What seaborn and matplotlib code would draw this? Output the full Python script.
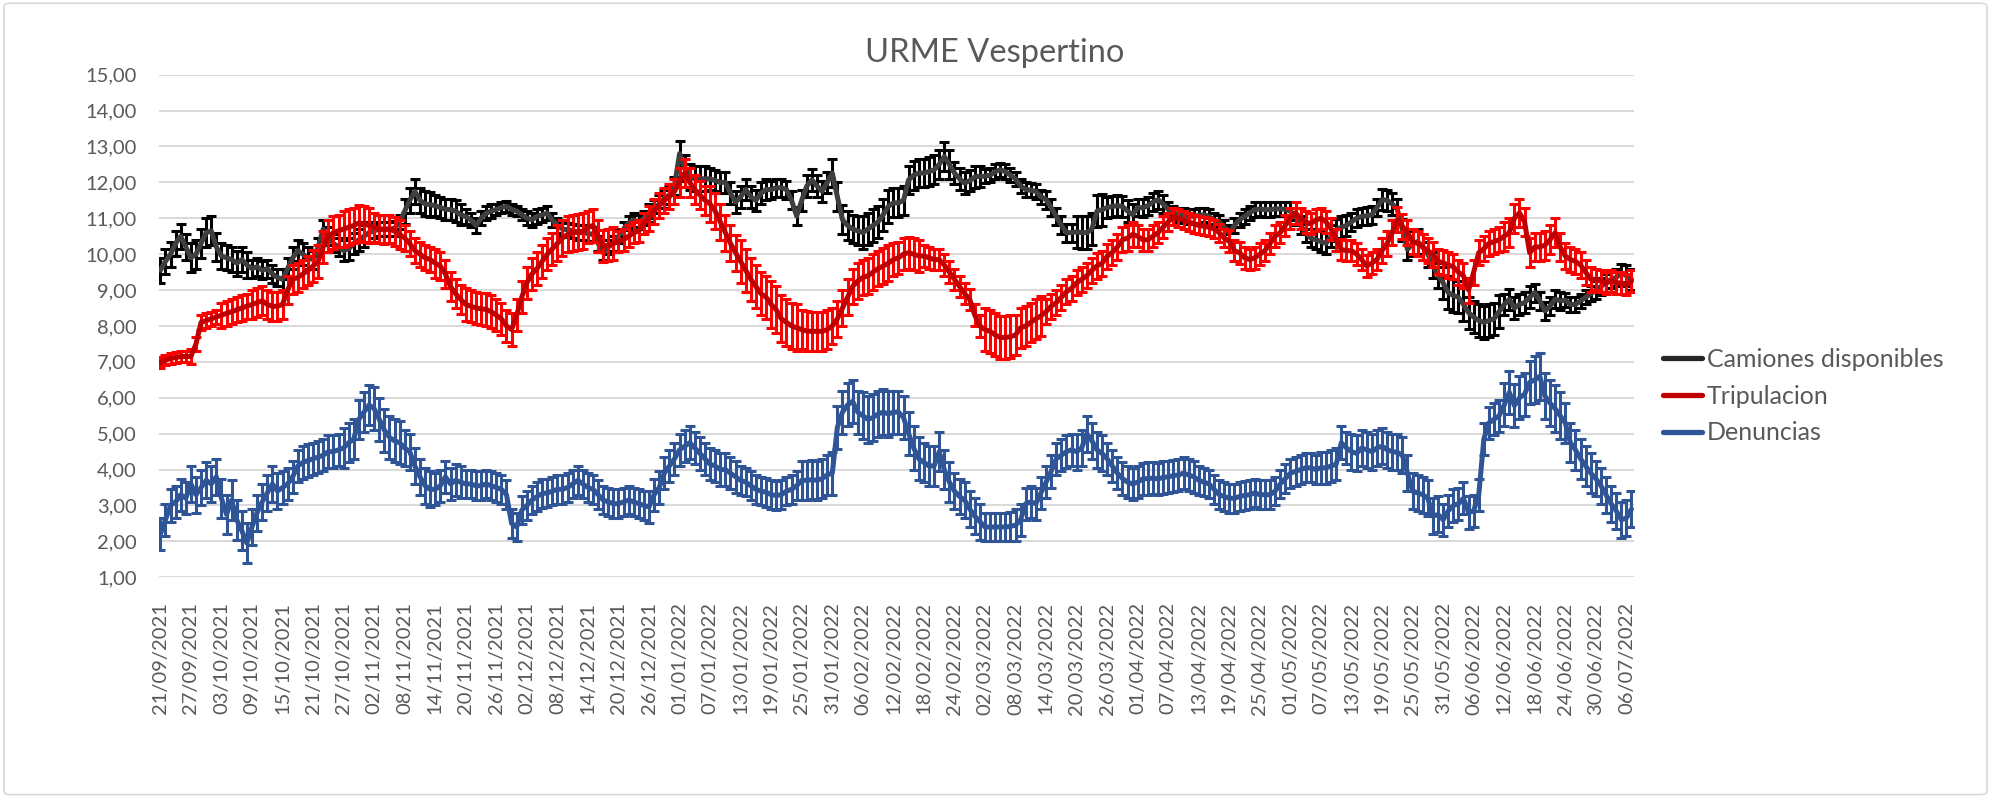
import numpy as np
import pandas as pd
import matplotlib
matplotlib.use("Agg")
import matplotlib.pyplot as plt
import seaborn as sns
from matplotlib.lines import Line2D
from matplotlib.patches import FancyBboxPatch

# -------------------------------
# Data (daily values, 21/09/2021 -> 07/07/2022)
# -------------------------------
start_date = "2021-09-21"

camiones = [
    9.55, 9.8, 10.0, 10.3, 10.5, 10.2, 9.9, 10.0, 10.3, 10.6,
    10.65, 10.2, 9.95, 9.9, 9.85, 9.75, 9.85, 9.7, 9.6, 9.65,
    9.55, 9.6, 9.45, 9.35, 9.3, 9.6, 9.9, 10.1, 10.0, 9.9,
    9.85, 10.2, 10.7, 10.5, 10.3, 10.2, 10.1, 10.15, 10.3, 10.4,
    10.5, 10.6, 10.65, 10.7, 10.7, 10.7, 10.72, 10.9, 11.2, 11.5,
    11.75, 11.5, 11.4, 11.38, 11.35, 11.3, 11.25, 11.24, 11.2, 11.1,
    11.05, 10.95, 10.8, 11.0, 11.14, 11.2, 11.25, 11.3, 11.33, 11.25,
    11.2, 11.1, 11.0, 10.96, 11.05, 11.1, 11.14, 10.95, 10.8, 10.7,
    10.68, 10.65, 10.6, 10.6, 10.58, 10.55, 10.3, 10.04, 10.2, 10.3,
    10.5, 10.7, 10.87, 10.95, 10.9, 11.0, 11.15, 11.25, 11.4, 11.55,
    11.65, 11.9, 12.8, 12.4, 12.15, 12.1, 12.1, 12.1, 12.1, 12.05,
    12.0, 12.0, 11.7, 11.45, 11.6, 11.8, 11.6, 11.5, 11.7, 11.8,
    11.8, 11.85, 11.85, 11.8, 11.5, 11.06, 11.5, 11.9, 12.07, 11.9,
    11.75, 12.0, 12.26, 11.6, 10.96, 10.8, 10.7, 10.65, 10.6, 10.7,
    10.8, 10.9, 11.1, 11.33, 11.43, 11.43, 11.5, 12.07, 12.2, 12.26,
    12.26, 12.3, 12.35, 12.5, 12.72, 12.5, 12.26, 12.1, 11.98, 12.05,
    12.15, 12.17, 12.17, 12.2, 12.3, 12.35, 12.3, 12.2, 12.1, 11.9,
    11.8, 11.78, 11.75, 11.6, 11.52, 11.3, 11.05, 10.8, 10.6, 10.6,
    10.62, 10.6, 10.6, 10.7, 11.2, 11.24, 11.3, 11.33, 11.35, 11.33,
    11.2, 11.1, 11.3, 11.29, 11.35, 11.45, 11.52, 11.4, 11.25, 11.15,
    11.1, 11.08, 11.05, 11.06, 11.08, 11.1, 11.05, 10.95, 10.9, 10.75,
    10.6, 10.8, 10.96, 11.05, 11.15, 11.24, 11.26, 11.24, 11.24, 11.26,
    11.26, 11.25, 11.2, 11.05, 10.8, 10.6, 10.45, 10.4, 10.35, 10.3,
    10.5, 10.68, 10.75, 10.8, 10.9, 11.0, 11.05, 11.07, 11.1, 11.3,
    11.52, 11.5, 11.4, 11.25, 10.68, 10.13, 10.3, 10.35, 10.2, 10.0,
    9.7, 9.4, 9.2, 8.93, 8.85, 8.8, 8.6, 8.37, 8.25, 8.15,
    8.1, 8.15, 8.2, 8.4, 8.6, 8.74, 8.5, 8.6, 8.65, 8.8,
    8.93, 8.7, 8.42, 8.55, 8.75, 8.7, 8.72, 8.6, 8.6, 8.7,
    8.8, 8.9, 9.0, 9.1, 9.2, 9.3, 9.35, 9.48, 9.4, 9.3,
]

tripulacion = [
    6.98, 7.05, 7.1, 7.12, 7.15, 7.15, 7.15, 7.5, 8.1, 8.15,
    8.2, 8.25, 8.3, 8.35, 8.4, 8.45, 8.5, 8.55, 8.6, 8.65,
    8.7, 8.6, 8.55, 8.55, 8.6, 9.0, 9.3, 9.35, 9.45, 9.55,
    9.67, 9.8, 10.2, 10.5, 10.6, 10.65, 10.7, 10.75, 10.8, 10.87,
    10.85, 10.8, 10.75, 10.7, 10.68, 10.7, 10.64, 10.55, 10.45, 10.3,
    10.1, 10.0, 9.9, 9.85, 9.75, 9.67, 9.45, 9.1, 8.9, 8.74,
    8.6, 8.55, 8.5, 8.48, 8.46, 8.4, 8.3, 8.2, 8.0, 7.9,
    8.3, 8.8, 9.2, 9.45, 9.6, 9.8, 10.0, 10.15, 10.3, 10.45,
    10.55, 10.6, 10.62, 10.64, 10.75, 10.8, 10.5, 10.22, 10.25, 10.3,
    10.35, 10.4, 10.5, 10.6, 10.65, 10.85, 11.0, 11.2, 11.35, 11.5,
    11.6, 11.75, 12.0, 12.26, 12.0, 11.8, 11.65, 11.5, 11.4, 11.2,
    10.9, 10.6, 10.3, 10.04, 9.8, 9.55, 9.3, 9.1, 8.9, 8.8,
    8.6, 8.45, 8.2, 8.1, 8.0, 7.95, 7.9, 7.86, 7.85, 7.85,
    7.85, 7.9, 8.0, 8.2, 8.5, 8.8, 9.1, 9.25, 9.35, 9.4,
    9.5, 9.6, 9.67, 9.75, 9.85, 9.9, 10.0, 10.04, 10.0, 9.95,
    9.95, 9.9, 9.85, 9.85, 9.7, 9.5, 9.3, 9.1, 8.9, 8.74,
    8.3, 8.0, 7.9, 7.85, 7.75, 7.68, 7.68, 7.7, 7.75, 7.95,
    8.0, 8.1, 8.2, 8.28, 8.4, 8.55, 8.65, 8.8, 8.95, 9.05,
    9.2, 9.3, 9.4, 9.55, 9.67, 9.75, 9.94, 10.05, 10.2, 10.4,
    10.45, 10.55, 10.5, 10.4, 10.4, 10.5, 10.6, 10.75, 10.9, 11.05,
    11.0, 10.95, 10.9, 10.85, 10.8, 10.78, 10.75, 10.7, 10.6, 10.45,
    10.36, 10.1, 10.04, 9.9, 9.85, 9.9, 10.0, 10.1, 10.3, 10.5,
    10.6, 10.8, 11.0, 11.15, 11.0, 10.9, 10.85, 10.95, 11.0, 10.9,
    10.7, 10.4, 10.13, 10.1, 10.1, 10.0, 9.85, 9.67, 9.75, 9.85,
    10.1, 10.3, 10.6, 10.96, 10.78, 10.6, 10.35, 10.3, 10.2, 10.1,
    10.0, 9.8, 9.76, 9.7, 9.65, 9.5, 9.4, 9.0, 9.5, 10.04,
    10.15, 10.3, 10.35, 10.4, 10.5, 10.6, 11.0, 11.15, 10.9, 10.04,
    10.2, 10.2, 10.25, 10.4, 10.6, 10.2, 9.95, 9.85, 9.8, 9.7,
    9.5, 9.3, 9.3, 9.25, 9.2, 9.25, 9.2, 9.2, 9.15, 9.25,
]

denuncias = [
    2.2, 2.6, 3.0, 3.1, 3.3, 3.2, 3.6, 3.3, 3.5, 3.7,
    3.6, 3.8, 3.2, 2.75, 3.15, 2.6, 2.3, 1.95, 2.4, 2.8,
    3.1, 3.35, 3.6, 3.4, 3.5, 3.6, 3.8, 4.1, 4.2, 4.25,
    4.3, 4.35, 4.4, 4.5, 4.5, 4.55, 4.6, 4.75, 4.85, 5.4,
    5.6, 5.8, 5.7, 5.4, 5.1, 4.9, 4.8, 4.75, 4.6, 4.5,
    4.1, 3.8, 3.55, 3.45, 3.45, 3.55, 3.8, 3.6, 3.7, 3.65,
    3.6, 3.6, 3.55, 3.55, 3.6, 3.55, 3.5, 3.45, 3.3, 2.5,
    2.4, 2.87, 3.0, 3.15, 3.25, 3.33, 3.35, 3.4, 3.45, 3.45,
    3.5, 3.6, 3.7, 3.6, 3.5, 3.45, 3.3, 3.15, 3.1, 3.05,
    3.05, 3.1, 3.15, 3.1, 3.05, 3.0, 2.96, 3.3, 3.5, 3.9,
    4.1, 4.3, 4.55, 4.65, 4.75, 4.6, 4.45, 4.3, 4.15, 4.1,
    4.0, 4.0, 3.9, 3.8, 3.7, 3.65, 3.55, 3.45, 3.4, 3.37,
    3.3, 3.28, 3.3, 3.4, 3.45, 3.55, 3.7, 3.7, 3.72, 3.7,
    3.75, 3.85, 3.9, 5.18, 5.6, 5.8, 5.9, 5.6, 5.5, 5.4,
    5.45, 5.55, 5.6, 5.55, 5.6, 5.6, 5.45, 5.0, 4.6, 4.3,
    4.2, 4.1, 4.1, 4.5, 4.0, 3.65, 3.4, 3.25, 3.15, 2.9,
    2.7, 2.55, 2.4, 2.4, 2.4, 2.4, 2.4, 2.42, 2.45, 2.6,
    3.05, 3.1, 3.05, 3.35, 3.65, 3.95, 4.3, 4.4, 4.5, 4.55,
    4.5, 4.6, 5.0, 4.8, 4.55, 4.45, 4.3, 4.1, 3.9, 3.75,
    3.65, 3.6, 3.65, 3.74, 3.75, 3.76, 3.74, 3.78, 3.8, 3.83,
    3.85, 3.9, 3.85, 3.8, 3.7, 3.65, 3.6, 3.45, 3.3, 3.25,
    3.2, 3.2, 3.25, 3.28, 3.3, 3.35, 3.3, 3.3, 3.3, 3.4,
    3.6, 3.75, 3.9, 3.95, 4.0, 4.05, 4.05, 4.0, 4.05, 4.05,
    4.1, 4.15, 4.75, 4.6, 4.5, 4.45, 4.6, 4.55, 4.5, 4.6,
    4.65, 4.55, 4.5, 4.48, 4.4, 3.9, 3.4, 3.35, 3.3, 3.2,
    2.7, 2.75, 2.6, 2.85, 3.0, 3.05, 3.2, 2.8, 2.85, 3.3,
    4.85, 5.3, 5.4, 5.5, 5.8, 6.15, 5.78, 6.0, 6.1, 6.43,
    6.5, 6.6, 6.05, 5.85, 5.7, 5.5, 5.3, 4.75, 4.55, 4.3,
    4.1, 3.9, 3.75, 3.55, 3.3, 3.05, 2.85, 2.6, 2.65, 2.9,
]

# error bar half-widths, one value per 6-day period
camiones_err = [0.35, 0.4, 0.35, 0.25, 0.3, 0.25, 0.3, 0.2, 0.35, 0.3,
                0.2, 0.15, 0.2, 0.2, 0.2, 0.2, 0.25, 0.35, 0.3, 0.3,
                0.25, 0.3, 0.4, 0.45, 0.4, 0.4, 0.3, 0.2, 0.2, 0.25,
                0.45, 0.3, 0.25, 0.2, 0.2, 0.2, 0.2, 0.25, 0.3, 0.25,
                0.3, 0.35, 0.45, 0.45, 0.3, 0.25, 0.2, 0.25, 0.3]
tripulacion_err = [0.15, 0.2, 0.35, 0.4, 0.4, 0.45, 0.5, 0.4, 0.35, 0.4,
                   0.45, 0.45, 0.45, 0.5, 0.45, 0.3, 0.35, 0.4, 0.5, 0.6,
                   0.65, 0.55, 0.5, 0.5, 0.45, 0.3, 0.3, 0.6, 0.55, 0.35,
                   0.35, 0.35, 0.3, 0.25, 0.25, 0.3, 0.3, 0.3, 0.3, 0.3,
                   0.35, 0.35, 0.35, 0.35, 0.4, 0.4, 0.35, 0.3, 0.3]
denuncias_err = [0.45, 0.5, 0.55, 0.5, 0.45, 0.45, 0.55, 0.6, 0.5, 0.45,
                 0.4, 0.4, 0.4, 0.4, 0.4, 0.4, 0.45, 0.45, 0.45, 0.4,
                 0.4, 0.55, 0.6, 0.65, 0.6, 0.55, 0.5, 0.4, 0.45, 0.45,
                 0.5, 0.45, 0.45, 0.45, 0.4, 0.4, 0.4, 0.4, 0.45, 0.5,
                 0.5, 0.5, 0.45, 0.45, 0.6, 0.65, 0.55, 0.5, 0.5]

series_names = ["Camiones disponibles", "Tripulacion", "Denuncias"]

n = len(camiones)
dates = pd.date_range(start_date, periods=n, freq="D")

# -------------------------------
# Plot
# -------------------------------
sns.set_theme(style="white")
plt.rcParams["font.family"] = ["Lato", "DejaVu Sans"]
text_col = "#595959"

fig = plt.figure(figsize=(19.91, 7.97), dpi=100)
ax = fig.add_axes([0.0799, 0.2757, 0.7408, 0.6306])

styles = [
    (camiones, camiones_err, "#3f3f3f", "#000000"),
    (tripulacion, tripulacion_err, "#c00000", "#ff0000"),
    (denuncias, denuncias_err, "#2f5597", "#2f5597"),
]

handles = []
for i, (vals, err, line_col, bar_col) in enumerate(styles):
    yerr = np.repeat(err, 6)[:n]
    ax.errorbar(dates, vals, yerr=yerr, fmt="none", ecolor=bar_col,
                elinewidth=2.2, capsize=3.8, capthick=2.2, zorder=2 + 2 * i)
    sns.lineplot(x=dates, y=vals, color=line_col, linewidth=3.6, ax=ax,
                 legend=False, zorder=3 + 2 * i)
    handles.append(Line2D([0], [0], color=line_col if i else "#262626", linewidth=3.8))

ax.set_xlim(dates[0] - pd.Timedelta(hours=6), dates[-1] + pd.Timedelta(hours=12))
ax.set_ylim(1, 15)

yticks = np.arange(1, 16)
ax.set_yticks(yticks)
ax.set_yticklabels([f"{v:.2f}".replace(".", ",") for v in yticks])
ax.set_xticks(dates[::6])
ax.set_xticklabels([d.strftime("%d/%m/%Y") for d in dates[::6]], rotation=90)

ax.tick_params(axis="y", labelsize=14.5, colors=text_col, pad=16, length=0)
ax.tick_params(axis="x", labelsize=14.5, colors=text_col, pad=18, length=0)
ax.yaxis.grid(True, color="#d9d9d9", linewidth=1.4)
ax.xaxis.grid(False)
for s in ax.spines.values():
    s.set_visible(False)
ax.set_xlabel("")
ax.set_ylabel("")

fig.text(0.4997, 1 - 53 / 797, "URME Vespertino", ha="center", va="center",
         fontsize=23.5, color=text_col)

fig.legend(handles, series_names, loc="center left",
           bbox_to_anchor=(1640 / 1991, 1 - 396 / 797), frameon=False,
           fontsize=18, labelcolor=text_col, handlelength=1.57,
           labelspacing=0.55, handletextpad=0.2)

border = FancyBboxPatch((0.002, 0.003), 0.996, 0.993,
                        boxstyle="round,pad=0,rounding_size=0.004",
                        transform=fig.transFigure, fill=False,
                        edgecolor="#d9d9d9", linewidth=1.2)
fig.patches.append(border)

fig.savefig("out.png", dpi=100)
plt.close()
